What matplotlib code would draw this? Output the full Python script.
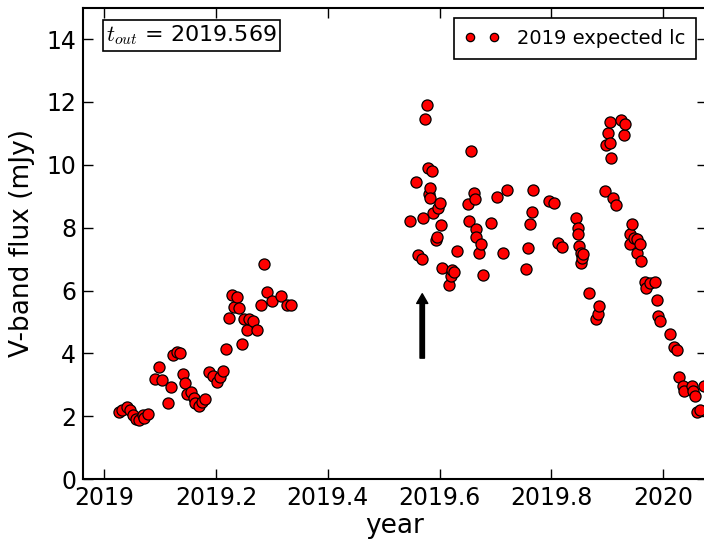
#!/usr/bin/env python3

import numpy as np
import matplotlib
matplotlib.use("Agg")
import matplotlib.pyplot as plt

# expected 2019 light curve (year, V-band flux in mJy)
years = [
    2019.027, 2019.032, 2019.041, 2019.047, 2019.052, 2019.057, 2019.063, 2019.069,
    2019.072, 2019.079, 2019.091, 2019.098, 2019.103, 2019.114, 2019.119, 2019.124,
    2019.130, 2019.135, 2019.141, 2019.144, 2019.149, 2019.156, 2019.160, 2019.163,
    2019.169, 2019.175, 2019.180, 2019.188, 2019.194, 2019.202, 2019.208, 2019.213,
    2019.218, 2019.224, 2019.228, 2019.233, 2019.237, 2019.242, 2019.246, 2019.250,
    2019.255, 2019.259, 2019.267, 2019.273, 2019.280, 2019.286, 2019.292, 2019.301,
    2019.317, 2019.328, 2019.334,
    2019.548, 2019.557, 2019.561, 2019.568, 2019.571, 2019.574, 2019.577, 2019.580,
    2019.582, 2019.583, 2019.583, 2019.586, 2019.588, 2019.593, 2019.595, 2019.598,
    2019.601, 2019.603, 2019.605, 2019.617, 2019.621, 2019.622, 2019.625, 2019.631,
    2019.650, 2019.652, 2019.656, 2019.661, 2019.664, 2019.666, 2019.666, 2019.670,
    2019.674, 2019.678, 2019.692, 2019.702, 2019.713, 2019.720, 2019.755, 2019.758,
    2019.762, 2019.765, 2019.768, 2019.795, 2019.805, 2019.812, 2019.819, 2019.844,
    2019.847, 2019.847, 2019.849, 2019.853, 2019.853, 2019.855, 2019.857, 2019.867,
    2019.880, 2019.883, 2019.886, 2019.896, 2019.898, 2019.902, 2019.904, 2019.905,
    2019.906, 2019.911, 2019.916, 2019.925, 2019.929, 2019.932, 2019.941, 2019.941,
    2019.944, 2019.948, 2019.953, 2019.954, 2019.959, 2019.961, 2019.968, 2019.970,
    2019.977, 2019.986, 2019.989, 2019.990, 2019.995, 2020.013, 2020.019, 2020.024,
    2020.029, 2020.035, 2020.038, 2020.052, 2020.054, 2020.057, 2020.060, 2020.065,
    2020.073,
]
flux = [
    2.15, 2.21, 2.31, 2.21, 2.05, 1.91, 1.89, 2.05,
    1.94, 2.08, 3.18, 3.57, 3.15, 2.42, 2.93, 3.96,
    4.04, 4.01, 3.34, 3.06, 2.70, 2.77, 2.58, 2.42,
    2.34, 2.47, 2.56, 3.41, 3.27, 3.08, 3.24, 3.43,
    4.14, 5.13, 5.87, 5.48, 5.79, 5.43, 4.31, 5.08,
    4.74, 5.08, 5.02, 4.73, 5.53, 6.85, 5.96, 5.68,
    5.82, 5.55, 5.53,
    8.22, 9.45, 7.14, 7.02, 8.31, 11.46, 11.90, 9.90,
    9.08, 9.27, 8.93, 9.80, 8.46, 7.61, 7.70, 8.62,
    8.79, 8.08, 6.71, 6.18, 6.45, 6.65, 6.58, 7.26,
    8.74, 8.22, 10.45, 9.09, 8.90, 7.97, 7.70, 7.19,
    7.49, 6.48, 8.16, 8.98, 7.19, 9.21, 6.68, 7.37,
    8.12, 8.51, 9.21, 8.84, 8.80, 7.50, 7.38, 8.30,
    7.98, 7.81, 7.41, 7.20, 6.88, 7.04, 7.15, 5.93,
    5.08, 5.24, 5.51, 9.17, 10.62, 11.00, 11.35, 10.71,
    10.21, 8.96, 8.71, 11.43, 10.95, 11.31, 7.79, 7.49,
    8.11, 7.68, 7.20, 7.63, 7.47, 6.94, 6.28, 6.08,
    6.24, 6.28, 5.70, 5.18, 5.04, 4.63, 4.20, 4.12,
    3.26, 2.95, 2.79, 2.95, 2.79, 2.65, 2.15, 2.21,
    2.95,
]
t_out = 2019.569
arrow_flux = [3.85, 5.9]
series_label = "2019 expected lc"
xticks = [2019.0, 2019.2, 2019.4, 2019.6, 2019.8, 2020.0]
xtick_labels = ["2019", "2019.2", "2019.4", "2019.6", "2019.8", "2020"]
yticks = [0, 2, 4, 6, 8, 10, 12, 14]

plt.rcParams["mathtext.fontset"] = "cm"
plt.rcParams["font.family"] = ["DejaVu Sans"]

fig = plt.figure(figsize=(7.04, 5.47), dpi=100)
ax = fig.add_axes([0.118, 0.124, 0.886, 0.862])

ax.plot(years, flux, "o", color="red", markeredgecolor="black",
        markeredgewidth=0.9, markersize=8, label=series_label, zorder=3)

# arrow marking t_out
ax.annotate("", xy=(t_out, arrow_flux[1]), xytext=(t_out, arrow_flux[0]),
            arrowprops=dict(facecolor="black", edgecolor="black",
                            width=3.2, headwidth=8, headlength=7))

ax.text(0.037, 0.966, r"$t_{out}$ = " + f"{t_out:.3f}", transform=ax.transAxes,
        fontsize=16, va="top", ha="left",
        bbox=dict(boxstyle="square,pad=0.15", fc="white", ec="black", lw=1.2))

leg = ax.legend(loc="upper right", numpoints=2, fontsize=14, fancybox=False,
                framealpha=1, edgecolor="black", borderpad=0.55,
                handletextpad=0.9, markerscale=0.75, borderaxespad=0.55,
                handlelength=1.8)
leg.get_frame().set_linewidth(1.2)

ax.set_xlim(2018.9624, 2020.078)
ax.set_ylim(0, 15)
ax.set_xticks(xticks)
ax.set_xticklabels(xtick_labels)
ax.set_yticks(yticks)
ax.tick_params(direction="in", top=True, right=True, length=7, width=1,
               labelsize=17, pad=5)
for s in ax.spines.values():
    s.set_linewidth(1.5)

ax.set_xlabel("year", fontsize=19, labelpad=2)
ax.set_ylabel("V-band flux (mJy)", fontsize=19, labelpad=8)

fig.savefig("out.png", dpi=100)
